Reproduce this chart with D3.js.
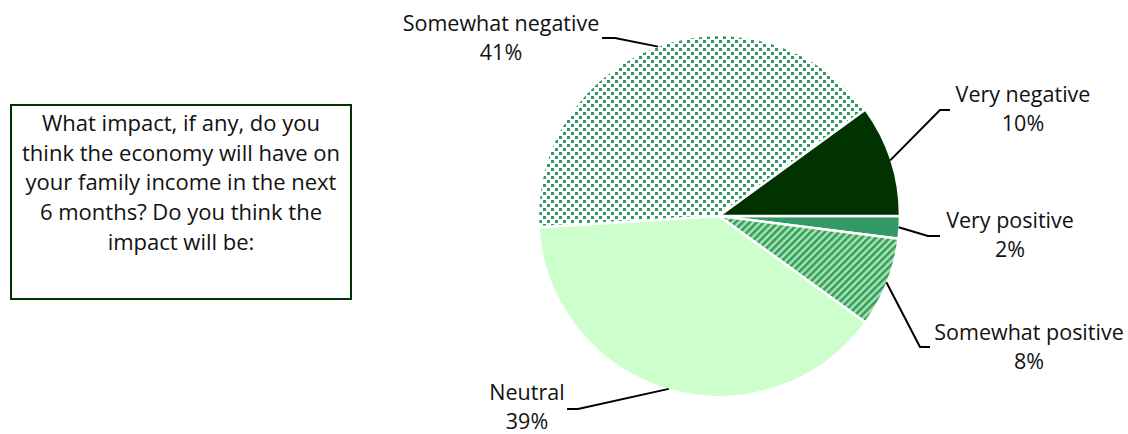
<!DOCTYPE html>
<html><head><meta charset="utf-8">
<script src="https://cdn.jsdelivr.net/npm/d3@7"></script>
<style>
html,body{margin:0;padding:0;background:#fff;}
svg{display:block;font-family:"Open Sans", Lato, sans-serif;}
</style></head>
<body>
<svg id="c" width="1128" height="434"></svg>
<script>
const categories = ["Very positive","Somewhat positive","Neutral","Somewhat negative","Very negative"];
const values = [2, 8, 39, 41, 10];
const pctLabels = ["2%","8%","39%","41%","10%"];
const fills = ["#339966","url(#stripes)","#ccffcc","url(#dots)","#003300"];
const question = ["What impact, if any, do you","think the economy will have on","your family income in the next","6 months? Do you think the","impact will be:"];
// label anchor (text centre) and leader path bends per slice
const labelPos = [
  {x:1010, y:228, bend:[[928,236],[940,236]]},
  {x:1029, y:340, bend:[[920,347],[930,347]]},
  {x:527, y:400, bend:[[578,409],[567,409]]},
  {x:501, y:31, bend:[[615,38],[602,38]]},
  {x:1023, y:102, bend:[[940,110],[950,110]]}
];

const svg = d3.select("#c");
const defs = svg.append("defs");
const st = defs.append("pattern").attr("id","stripes").attr("patternUnits","userSpaceOnUse")
  .attr("width",5).attr("height",5).attr("patternTransform","rotate(45)");
st.append("rect").attr("width",5).attr("height",5).attr("fill","#a6e6a6");
st.append("rect").attr("width",2.5).attr("height",5).attr("fill","#339966");
const dt = defs.append("pattern").attr("id","dots").attr("patternUnits","userSpaceOnUse")
  .attr("width",8).attr("height",8);
dt.append("rect").attr("width",8).attr("height",8).attr("fill","#fff");
dt.append("rect").attr("x",0).attr("y",0).attr("width",3).attr("height",3).attr("fill","#339966").attr("shape-rendering","crispEdges");
dt.append("rect").attr("x",4).attr("y",4).attr("width",3).attr("height",3).attr("fill","#339966").attr("shape-rendering","crispEdges");

const cx = 719, cy = 216, R = 181;
const pie = d3.pie().sort(null).value(d=>d).startAngle(Math.PI/2).endAngle(Math.PI/2 + 2*Math.PI);
const arcs = pie(values);
const arc = d3.arc().innerRadius(0).outerRadius(R);
const g = svg.append("g").attr("transform",`translate(${cx},${cy})`);
g.selectAll("path.slice").data(arcs).join("path").attr("class","slice")
  .attr("d",arc).attr("fill",(d,i)=>fills[i]).attr("stroke","#fff").attr("stroke-width",2.5).attr("stroke-linejoin","round");

// leader lines
const edge = d3.arc().innerRadius(R-1).outerRadius(R-1);
arcs.forEach((d,i)=>{
  const [ex,ey] = edge.centroid(d);
  const pts = [[cx+ex, cy+ey]].concat(labelPos[i].bend);
  svg.append("path").attr("d", d3.line()(pts)).attr("fill","none").attr("stroke","#000").attr("stroke-width",2);
  const t = svg.append("text").attr("x",labelPos[i].x).attr("y",labelPos[i].y)
    .attr("text-anchor","middle").attr("font-size",21.5).attr("fill","#111");
  t.append("tspan").attr("x",labelPos[i].x).text(categories[i]);
  t.append("tspan").attr("x",labelPos[i].x).attr("dy",29).text(pctLabels[i]);
});

// question box
svg.append("rect").attr("x",11).attr("y",105).attr("width",340).attr("height",194)
  .attr("fill","#fff").attr("stroke","#003300").attr("stroke-width",2);
const qt = svg.append("text").attr("text-anchor","middle").attr("font-size",22).attr("fill","#111");
question.forEach((l,i)=>qt.append("tspan").attr("x",181).attr("y",131+i*29.7).text(l));
</script>
</body></html>
